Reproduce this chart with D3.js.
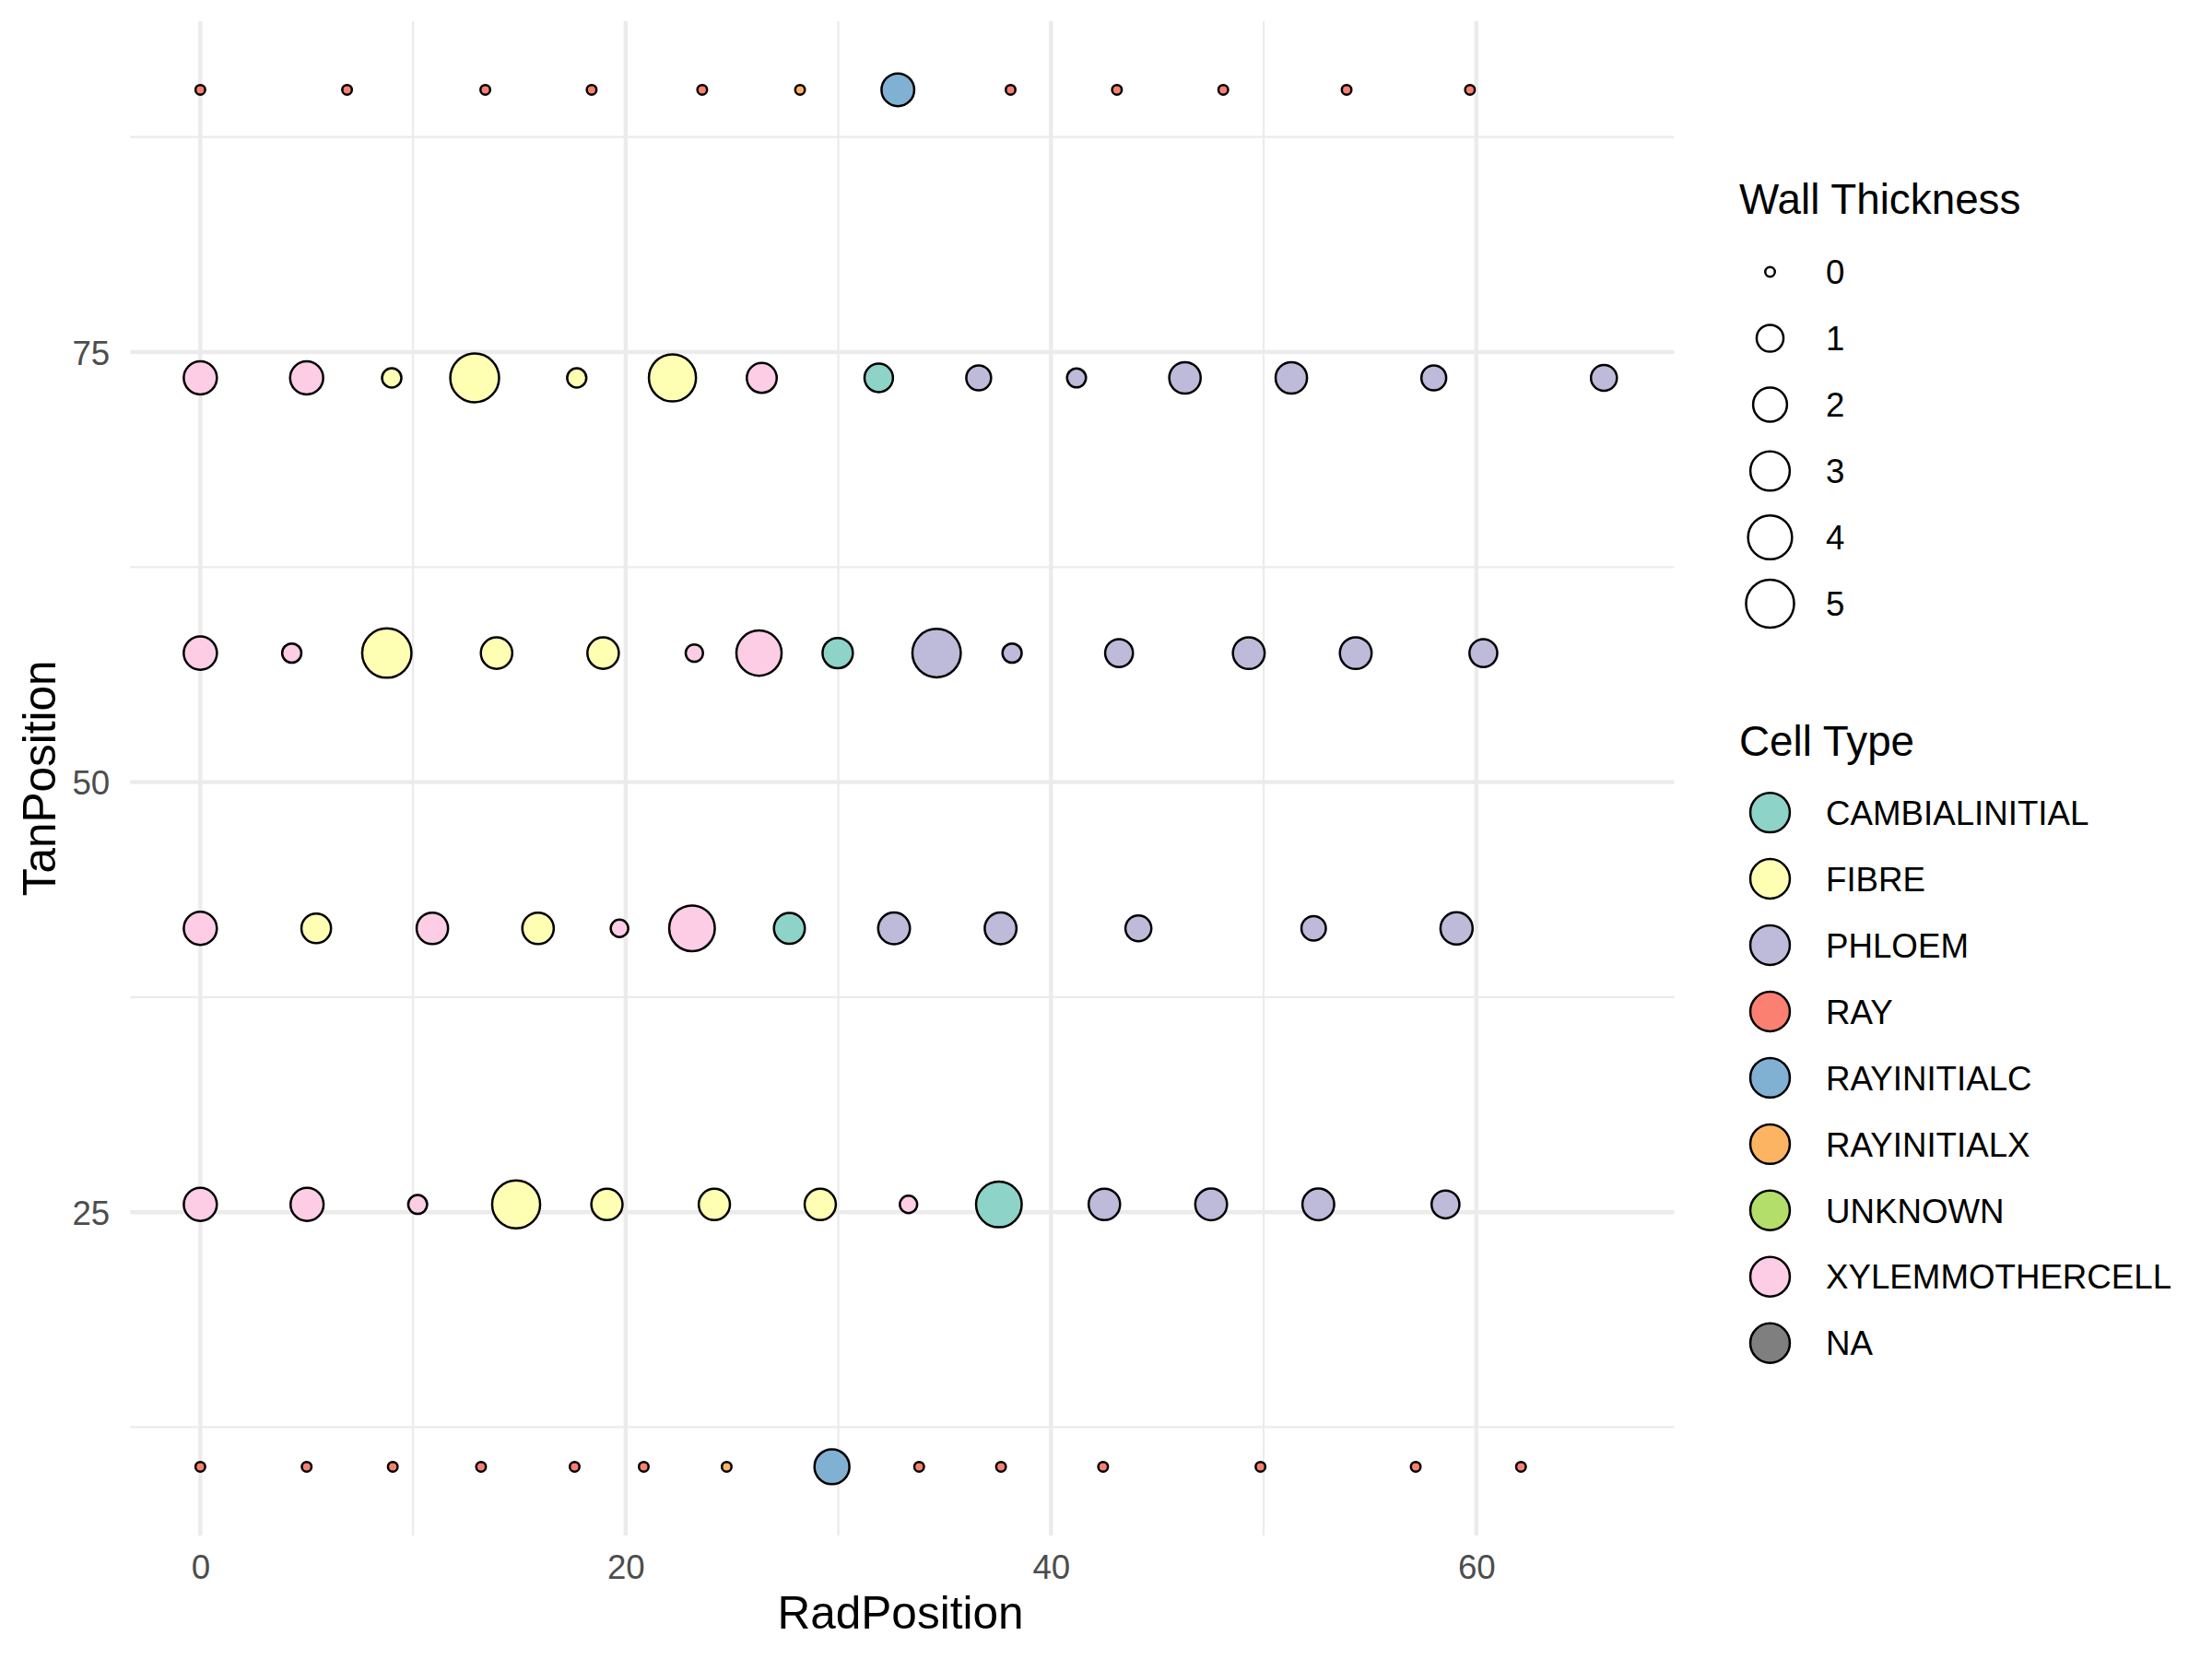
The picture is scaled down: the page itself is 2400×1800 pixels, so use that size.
<!DOCTYPE html>
<html>
<head>
<meta charset="utf-8">
<script src="https://cdn.jsdelivr.net/npm/d3@7"></script>
<style>
  html, body { margin: 0; padding: 0; background: #ffffff; }
  svg { display: block; }
  text { font-family: "Liberation Sans", Arial, Helvetica, sans-serif; }
</style>
</head>
<body>
<script>
// ---------------- data ----------------
const cellTypes = ["CAMBIALINITIAL", "FIBRE", "PHLOEM", "RAY", "RAYINITIALC", "RAYINITIALX", "UNKNOWN", "XYLEMMOTHERCELL", "NA"];
const cellColors = ["#8DD3C7", "#FFFFB3", "#BEBADA", "#FB8072", "#80B1D3", "#FDB462", "#B3DE69", "#FCCDE5", "#7F7F7F"];
const sizeBreaks = [0, 1, 2, 3, 4, 5];
const xTicks = [0, 20, 40, 60];
const yTicks = [25, 50, 75];

const radPosition = [
  // TanPosition ~90.25 (ray row)
  0, 6.9, 13.4, 18.4, 23.6, 28.2, 32.8, 38.1, 43.1, 48.1, 53.9, 59.7,
  // ~73.5
  0, 5, 9, 12.9, 17.7, 22.2, 26.4, 31.9, 36.6, 41.2, 46.3, 51.3, 58, 66,
  // ~57.5
  0, 4.3, 8.77, 13.93, 18.94, 23.23, 26.27, 29.97, 34.62, 38.17, 43.2, 49.3, 54.33, 60.33,
  // ~41.5
  0, 5.45, 10.91, 15.88, 19.71, 23.12, 27.7, 32.62, 37.63, 44.11, 52.35, 59.07,
  // ~25.5
  0, 5.02, 10.22, 14.85, 19.12, 24.17, 29.15, 33.3, 37.55, 42.51, 47.53, 52.57, 58.55,
  // ~10.2 (ray row)
  0, 5, 9.05, 13.2, 17.6, 20.85, 24.75, 29.7, 33.8, 37.65, 42.45, 49.85, 57.15, 62.1
];
const tanPosition = [
  90.25, 90.25, 90.25, 90.25, 90.25, 90.25, 90.25, 90.25, 90.25, 90.25, 90.25, 90.25,
  73.5, 73.5, 73.5, 73.5, 73.5, 73.5, 73.5, 73.5, 73.5, 73.5, 73.5, 73.5, 73.5, 73.5,
  57.5, 57.5, 57.5, 57.5, 57.5, 57.5, 57.5, 57.5, 57.5, 57.5, 57.5, 57.5, 57.5, 57.5,
  41.5, 41.5, 41.5, 41.5, 41.5, 41.5, 41.5, 41.5, 41.5, 41.5, 41.5, 41.5,
  25.45, 25.45, 25.45, 25.45, 25.45, 25.45, 25.45, 25.45, 25.45, 25.45, 25.45, 25.45, 25.45,
  10.2, 10.2, 10.2, 10.2, 10.2, 10.2, 10.2, 10.2, 10.2, 10.2, 10.2, 10.2, 10.2, 10.2
];
const cellType = [
  "RAY", "RAY", "RAY", "RAY", "RAY", "RAYINITIALX", "RAYINITIALC", "RAY", "RAY", "RAY", "RAY", "RAY",
  "XYLEMMOTHERCELL", "XYLEMMOTHERCELL", "FIBRE", "FIBRE", "FIBRE", "FIBRE", "XYLEMMOTHERCELL", "CAMBIALINITIAL", "PHLOEM", "PHLOEM", "PHLOEM", "PHLOEM", "PHLOEM", "PHLOEM",
  "XYLEMMOTHERCELL", "XYLEMMOTHERCELL", "FIBRE", "FIBRE", "FIBRE", "XYLEMMOTHERCELL", "XYLEMMOTHERCELL", "CAMBIALINITIAL", "PHLOEM", "PHLOEM", "PHLOEM", "PHLOEM", "PHLOEM", "PHLOEM",
  "XYLEMMOTHERCELL", "FIBRE", "XYLEMMOTHERCELL", "FIBRE", "XYLEMMOTHERCELL", "XYLEMMOTHERCELL", "CAMBIALINITIAL", "PHLOEM", "PHLOEM", "PHLOEM", "PHLOEM", "PHLOEM",
  "XYLEMMOTHERCELL", "XYLEMMOTHERCELL", "XYLEMMOTHERCELL", "FIBRE", "FIBRE", "FIBRE", "FIBRE", "XYLEMMOTHERCELL", "CAMBIALINITIAL", "PHLOEM", "PHLOEM", "PHLOEM", "PHLOEM",
  "RAY", "RAY", "RAY", "RAY", "RAY", "RAY", "RAYINITIALX", "RAYINITIALC", "RAY", "RAY", "RAY", "RAY", "RAY", "RAY"
];
const wallThickness = [
  0, 0, 0, 0, 0, 0, 1.81, 0, 0, 0, 0, 0,
  1.87, 1.87, 0.32, 5.2, 0.31, 4.76, 1.4, 1.2, 0.78, 0.29, 1.61, 1.61, 0.78, 0.9,
  1.89, 0.31, 5.34, 1.61, 1.61, 0.2, 4.3, 1.45, 5.1, 0.31, 1.12, 1.66, 1.66, 1.12,
  1.86, 1.35, 1.61, 1.61, 0.21, 4.4, 1.53, 1.66, 1.66, 0.9, 0.74, 1.72,
  1.86, 1.86, 0.29, 5.0, 1.58, 1.58, 1.58, 0.2, 4.4, 1.61, 1.66, 1.66, 1.12,
  0, 0, 0, 0, 0, 0, 0, 2.17, 0, 0, 0, 0, 0, 0
];

// ---------------- layout ----------------
const W = 2400, H = 1800;
const panel = { left: 141.2, right: 1816.4, top: 22.7, bottom: 1666.1 };
const gridColor = "#EBEBEB";
const strokeW = 2.5;

const points = radPosition.map((x, i) => ({ x, y: tanPosition[i], type: cellType[i], wt: wallThickness[i] }));

function expand(ext) { const d = (ext[1] - ext[0]) * 0.05; return [ext[0] - d, ext[1] + d]; }

const x = d3.scaleLinear().domain(expand(d3.extent(radPosition))).range([panel.left, panel.right]);
const y = d3.scaleLinear().domain(expand(d3.extent(tanPosition))).range([panel.bottom, panel.top]);
const size = d3.scaleSqrt().domain([0, d3.max(wallThickness)]).range([6.5, 28]); // outer radius in px
const color = d3.scaleOrdinal().domain(cellTypes).range(cellColors);

const svg = d3.select("body").append("svg").attr("width", W).attr("height", H);
svg.append("rect").attr("width", W).attr("height", H).attr("fill", "#fff");

// grid
const g = svg.append("g");
const xMinor = [10, 30, 50];
const yMinor = [12.5, 37.5, 62.5, 87.5];
g.selectAll(".xminor").data(xMinor).join("line")
  .attr("x1", d => x(d)).attr("x2", d => x(d)).attr("y1", panel.top).attr("y2", panel.bottom)
  .attr("stroke", gridColor).attr("stroke-width", 2.2);
g.selectAll(".yminor").data(yMinor).join("line")
  .attr("y1", d => y(d)).attr("y2", d => y(d)).attr("x1", panel.left).attr("x2", panel.right)
  .attr("stroke", gridColor).attr("stroke-width", 2.2);
g.selectAll(".xmajor").data(xTicks).join("line")
  .attr("x1", d => x(d)).attr("x2", d => x(d)).attr("y1", panel.top).attr("y2", panel.bottom)
  .attr("stroke", gridColor).attr("stroke-width", 4.4);
g.selectAll(".ymajor").data(yTicks).join("line")
  .attr("y1", d => y(d)).attr("y2", d => y(d)).attr("x1", panel.left).attr("x2", panel.right)
  .attr("stroke", gridColor).attr("stroke-width", 4.4);

// axes (tick labels only, like theme_minimal)
const xAxis = d3.axisBottom(x).tickValues(xTicks).tickSize(0).tickPadding(0).tickFormat(d3.format("d"));
const xa = svg.append("g").attr("transform", `translate(0,${panel.bottom})`).call(xAxis);
xa.select(".domain").remove();
xa.selectAll("text").attr("font-size", 36.7).attr("fill", "#4D4D4D")
  .attr("font-family", "Liberation Sans, Arial, sans-serif").attr("dy", null).attr("y", 47);

const yAxis = d3.axisLeft(y).tickValues(yTicks).tickSize(0).tickPadding(0).tickFormat(d3.format("d"));
const ya = svg.append("g").attr("transform", `translate(${panel.left},0)`).call(yAxis);
ya.select(".domain").remove();
ya.selectAll("text").attr("font-size", 36.7).attr("fill", "#4D4D4D")
  .attr("font-family", "Liberation Sans, Arial, sans-serif").attr("x", -22).attr("dy", "0.36em");

// axis titles
svg.append("text").attr("x", 977).attr("y", 1767)
  .attr("text-anchor", "middle").attr("font-size", 49.5).attr("fill", "#000").text("RadPosition");
svg.append("text").attr("transform", `translate(59.5,${(panel.top + panel.bottom) / 2}) rotate(-90)`)
  .attr("text-anchor", "middle").attr("font-size", 49.5).attr("fill", "#000").text("TanPosition");

// points
svg.append("g").selectAll("circle").data(points).join("circle")
  .attr("cx", d => x(d.x)).attr("cy", d => y(d.y))
  .attr("r", d => size(d.wt) - strokeW / 2)
  .attr("fill", d => color(d.type)).attr("stroke", "#000").attr("stroke-width", strokeW);

// legend: Wall Thickness
const legX = 1887, keyX = 1920.5, labX = 1981;
svg.append("text").attr("x", legX).attr("y", 232).attr("font-size", 45.8).attr("fill", "#000").text("Wall Thickness");
const sz = svg.append("g").selectAll("g").data(sizeBreaks).join("g")
  .attr("transform", (d, i) => `translate(0,${295 + i * 72})`);
sz.append("circle").attr("cx", keyX).attr("cy", 0).attr("r", d => size(d) - strokeW / 2)
  .attr("fill", "none").attr("stroke", "#000").attr("stroke-width", strokeW);
sz.append("text").attr("x", labX).attr("y", 0).attr("dy", "0.36em").attr("font-size", 36.7).attr("fill", "#000").text(d => d);

// legend: Cell Type
svg.append("text").attr("x", legX).attr("y", 820).attr("font-size", 45.8).attr("fill", "#000").text("Cell Type");
const ct = svg.append("g").selectAll("g").data(cellTypes).join("g")
  .attr("transform", (d, i) => `translate(0,${881.6 + i * 71.95})`);
ct.append("circle").attr("cx", keyX).attr("cy", 0).attr("r", 22.7 - strokeW / 2)
  .attr("fill", d => color(d)).attr("stroke", "#000").attr("stroke-width", strokeW);
ct.append("text").attr("x", labX).attr("y", 0).attr("dy", "0.36em").attr("font-size", 36.7).attr("fill", "#000").text(d => d);
</script>
</body>
</html>
